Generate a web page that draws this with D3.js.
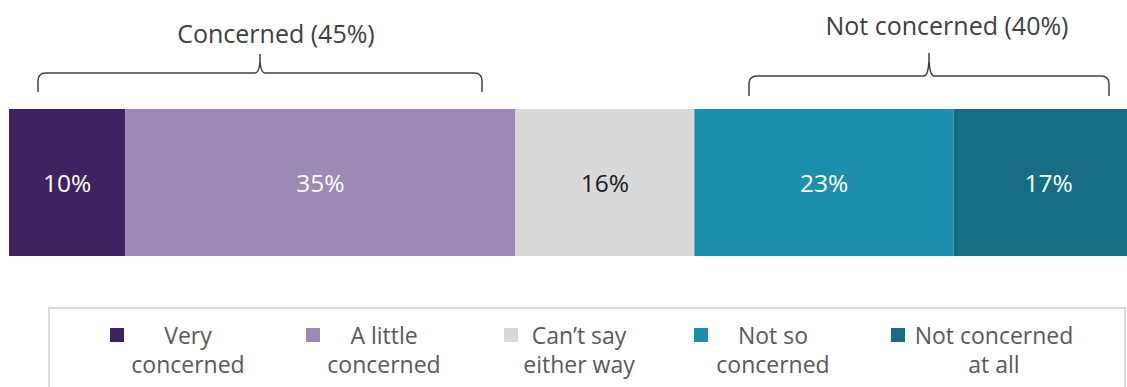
<!DOCTYPE html>
<html>
<head>
<meta charset="utf-8">
<script src="https://cdn.jsdelivr.net/npm/d3@7"></script>
<style>
  html, body { margin: 0; padding: 0; background: #fff; }
  svg { display: block; }
  text { font-family: "Open Sans", Roboto, sans-serif; }
</style>
</head>
<body>
<svg id="chart" width="1127" height="387"></svg>
<script>
// ---- data ----
const categories = ["Very concerned", "A little concerned", "Can\u2019t say either way", "Not so concerned", "Not concerned at all"];
const legendLines = [["Very", "concerned"], ["A little", "concerned"], ["Can\u2019t say", "either way"], ["Not so", "concerned"], ["Not concerned", "at all"]];
const values = [10.4, 34.9, 16.0, 23.2, 17.0];
const valueLabels = ["10%", "35%", "16%", "23%", "17%"];
const colors = ["#3d2460", "#9c8ab6", "#d9d9d9", "#1d8fad", "#176e84"];
const labelColors = ["#ffffff", "#ffffff", "#1a1a1a", "#ffffff", "#ffffff"];
const groupLabels = ["Concerned (45%)", "Not concerned (40%)"];

// ---- layout ----
const svg = d3.select("#chart");
const x = d3.scaleLinear().domain([0, 100]).range([9, 9 + 1118]);
const barTop = 109, barH = 147;

let acc = 0;
const segs = values.map((v, i) => {
  const s = { i, start: acc, end: acc + v, v };
  acc += v;
  return s;
});

// bars
svg.append("g").selectAll("rect").data(segs).join("rect")
  .attr("x", d => x(d.start))
  .attr("y", barTop)
  .attr("width", d => x(d.end) - x(d.start))
  .attr("height", barH)
  .attr("fill", d => colors[d.i]);

// value labels
svg.append("g").selectAll("text").data(segs).join("text")
  .attr("x", d => (x(d.start) + x(d.end)) / 2)
  .attr("y", 192)
  .attr("text-anchor", "middle")
  .attr("font-size", 24.5)
  .attr("fill", d => labelColors[d.i])
  .text(d => valueLabels[d.i]);

// braces
const braces = [
  { label: groupLabels[0], x0: 38, x1: 482, xt: 260, yT: 54, yH: 73, yE: 92, tx: 276, ty: 43 },
  { label: groupLabels[1], x0: 749, x1: 1109, xt: 929, yT: 53, yH: 76, yE: 96, tx: 947, ty: 35 }
];
function bracePath(b) {
  const p = d3.path();
  const r = 8;
  p.moveTo(b.x0, b.yE);
  p.lineTo(b.x0, b.yH + r);
  p.quadraticCurveTo(b.x0, b.yH, b.x0 + r, b.yH);
  p.lineTo(b.xt - 5, b.yH);
  p.quadraticCurveTo(b.xt - 1, b.yH, b.xt, b.yT + 8);
  p.lineTo(b.xt, b.yT);
  p.moveTo(b.xt, b.yT + 8);
  p.quadraticCurveTo(b.xt + 1, b.yH, b.xt + 5, b.yH);
  p.lineTo(b.x1 - r, b.yH);
  p.quadraticCurveTo(b.x1, b.yH, b.x1, b.yH + r);
  p.lineTo(b.x1, b.yE);
  return p.toString();
}
const bg = svg.append("g");
bg.selectAll("path").data(braces).join("path")
  .attr("d", bracePath)
  .attr("fill", "none")
  .attr("stroke", "#404040")
  .attr("stroke-width", 1.5);
bg.selectAll("text").data(braces).join("text")
  .attr("x", b => b.tx)
  .attr("y", b => b.ty)
  .attr("text-anchor", "middle")
  .attr("font-size", 25)
  .attr("fill", "#404040")
  .text(b => b.label);

// legend
const lg = svg.append("g");
lg.append("rect")
  .attr("x", 49).attr("y", 308)
  .attr("width", 1076).attr("height", 100)
  .attr("fill", "#fff")
  .attr("stroke", "#d9d9d9")
  .attr("stroke-width", 2);
const legendSquareX = [110, 306, 504, 694, 891];
const legendTextX = [188, 384, 579, 773, 994];
const items = lg.selectAll("g.item").data(categories).join("g").attr("class", "item");
items.append("rect")
  .attr("x", (d, i) => legendSquareX[i])
  .attr("y", 328)
  .attr("width", 14).attr("height", 14)
  .attr("fill", (d, i) => colors[i]);
items.append("text")
  .attr("text-anchor", "middle")
  .attr("font-size", 23)
  .attr("fill", "#595959")
  .each(function (d, i) {
    const t = d3.select(this);
    legendLines[i].forEach((line, k) => {
      t.append("tspan")
        .attr("x", legendTextX[i])
        .attr("y", 344 + k * 29)
        .text(line);
    });
  });
</script>
</body>
</html>
